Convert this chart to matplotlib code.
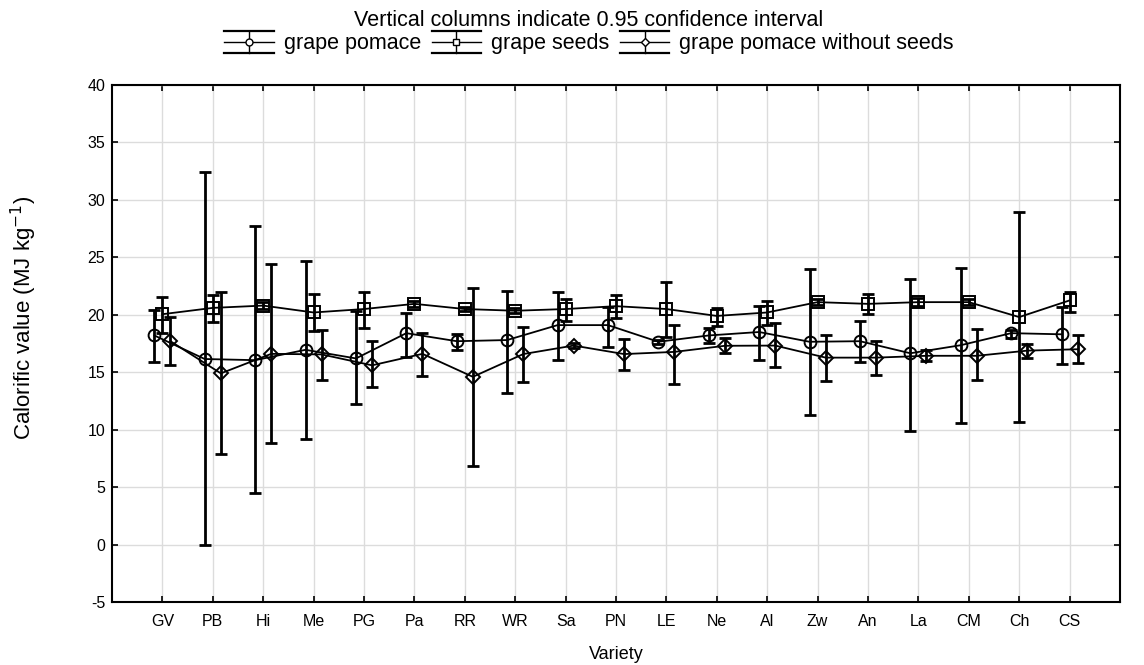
import matplotlib
matplotlib.use("Agg")
import matplotlib.pyplot as plt
from matplotlib.lines import Line2D
from matplotlib.legend_handler import HandlerBase

plt.rcParams['font.family'] = ['Liberation Sans', 'DejaVu Sans']
plt.rcParams['axes.unicode_minus'] = False

# varieties on the x axis
varieties = ['GV', 'PB', 'Hi', 'Me', 'PG', 'Pa', 'RR', 'WR', 'Sa', 'PN',
             'LE', 'Ne', 'Al', 'Zw', 'An', 'La', 'CM', 'Ch', 'CS']

# grape pomace: mean and 0.95 CI limits
pomace_mean = [18.2, 16.15, 16.05, 16.95, 16.2, 18.4, 17.7, 17.8, 19.1, 19.1,
               17.65, 18.2, 18.5, 17.65, 17.7, 16.65, 17.35, 18.4, 18.3]
pomace_low = [15.9, 0.0, 4.5, 9.2, 12.2, 16.3, 16.95, 13.2, 16.1, 17.2,
              17.5, 17.55, 16.1, 11.25, 15.85, 9.85, 10.55, 18.0, 15.75]
pomace_high = [20.45, 32.45, 27.7, 24.65, 20.35, 20.15, 18.35, 22.1, 22.0, 20.7,
               17.8, 18.85, 20.8, 24.0, 19.45, 23.15, 24.1, 18.7, 20.65]

# grape seeds
seeds_mean = [20.05, 20.6, 20.8, 20.2, 20.5, 20.95, 20.5, 20.35, 20.5, 20.75,
              20.5, 19.9, 20.2, 21.1, 20.95, 21.1, 21.1, 19.8, 21.25]
seeds_low = [18.4, 19.4, 20.5, 18.55, 18.85, 20.7, 20.3, 20.15, 19.45, 19.68,
             18.05, 19.05, 19.1, 20.85, 20.1, 20.75, 20.85, 10.67, 20.26]
seeds_high = [21.57, 21.7, 21.1, 21.83, 21.97, 21.2, 20.7, 20.55, 21.4, 21.7,
              22.83, 20.58, 21.18, 21.35, 21.8, 21.45, 21.35, 28.92, 22.0]

# grape pomace without seeds
noseed_mean = [17.7, 14.9, 16.6, 16.55, 15.6, 16.6, 14.6, 16.58, 17.32, 16.58,
               16.77, 17.3, 17.32, 16.27, 16.27, 16.43, 16.43, 16.88, 17.0]
noseed_low = [15.64, 7.85, 8.84, 14.36, 13.68, 14.7, 6.86, 14.16, 17.1, 15.17,
              14.0, 16.66, 15.48, 14.2, 14.8, 16.0, 14.3, 16.2, 15.81]
noseed_high = [19.85, 21.95, 24.42, 18.65, 17.68, 18.45, 22.35, 18.92, 17.55, 17.92,
               19.1, 18.02, 19.26, 18.25, 17.75, 16.9, 18.72, 17.47, 18.23]

series = [
    ('grape pomace', pomace_mean, pomace_low, pomace_high, 'o', -0.16),
    ('grape seeds', seeds_mean, seeds_low, seeds_high, 's', 0.0),
    ('grape pomace without seeds', noseed_mean, noseed_low, noseed_high, 'D', 0.16),
]


class CIHandler(HandlerBase):
    """Legend key drawn like the Statistica one: caps, line, whisker, marker."""

    def create_artists(self, legend, orig_handle, xdescent, ydescent,
                       width, height, fontsize, trans):
        x0 = -xdescent
        x1 = x0 + width
        xm = (x0 + x1) / 2
        ym = -ydescent + height / 2
        dy = fontsize * 0.5
        mk = orig_handle.get_marker()
        arts = [
            Line2D([x0, x1], [ym + dy, ym + dy], color='black', lw=1.6),
            Line2D([x0, x1], [ym - dy, ym - dy], color='black', lw=1.6),
            Line2D([x0, x1], [ym, ym], color='black', lw=1.0),
            Line2D([xm, xm], [ym - dy, ym + dy], color='black', lw=1.0),
            Line2D([xm], [ym], marker=mk, mfc='white', mec='black',
                   ms=5 if mk != 'D' else 4.3, mew=1.0, ls='none'),
        ]
        for a in arts:
            a.set_transform(trans)
        return arts


fig = plt.figure(figsize=(11.44, 6.65), dpi=100)
ax = fig.add_axes([112 / 1144, 1 - 602 / 665, 1008 / 1144, 517 / 665])

x_pos = list(range(1, len(varieties) + 1))
handles = []
for name, mean, low, high, mk, off in series:
    xs = [x + off for x in x_pos]
    err = [[m - lo for m, lo in zip(mean, low)], [hi - m for m, hi in zip(mean, high)]]
    ax.plot(xs, mean, color='black', lw=1.3, zorder=3)
    ax.errorbar(xs, mean, yerr=err, fmt='none', ecolor='black', elinewidth=2.0,
                capsize=4, capthick=2.0, zorder=4)
    msize = 8.5 if mk != 'D' else 7
    h, = ax.plot(xs, mean, ls='none', marker=mk, ms=msize, mfc='none', mec='black',
                 mew=1.4, zorder=5, label=name)
    handles.append(h)

ax.set_xlim(0, 20)
ax.set_ylim(-5, 40)
ax.set_yticks(range(-5, 41, 5))
ax.set_xticks(x_pos)
ax.set_xticklabels(varieties)
ax.grid(True, color='#dcdcdc', lw=1.0)
ax.set_axisbelow(True)
ax.tick_params(axis='both', direction='in', length=4, width=1.2, labelsize=11.5,
               top=True, right=True, pad=5)
ax.tick_params(axis='x', pad=9)
for s in ax.spines.values():
    s.set_linewidth(1.5)

ax.set_xlabel('Variety', fontsize=13, labelpad=12)
ax.set_ylabel('Calorific value (MJ kg$^{-1}$)', fontsize=16)
ax.yaxis.set_label_coords(-0.072, 0.55)

fig.text(589 / 1144, 1 - 20 / 665, 'Vertical columns indicate 0.95 confidence interval',
         ha='center', va='center', fontsize=15.5)
fig.legend(handles=handles, loc='center', bbox_to_anchor=(589 / 1144, 1 - 44 / 665),
           ncol=3, frameon=False, fontsize=15.5, handlelength=2.3, handletextpad=0.45,
           columnspacing=0.5, handler_map={Line2D: CIHandler()})

fig.savefig('out.png', dpi=100)
